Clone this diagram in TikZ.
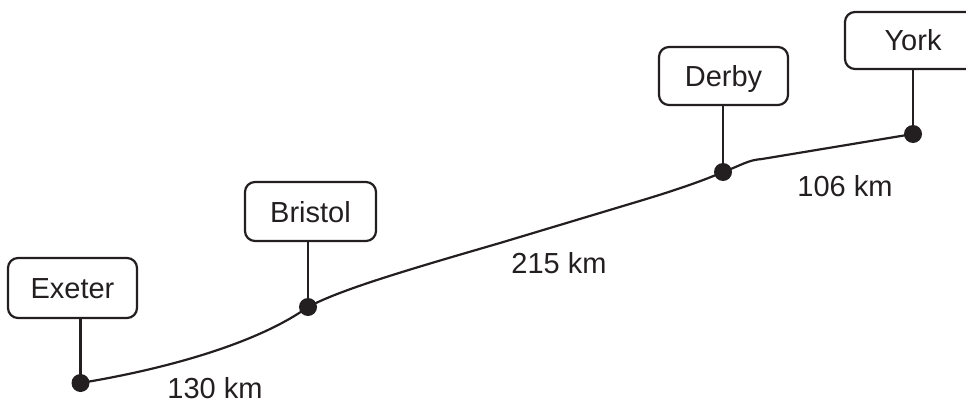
\documentclass[tikz,border=0pt]{standalone}
\usepackage{fontspec}
\setmainfont{Liberation Sans}
\definecolor{ink}{HTML}{231F20}
\begin{document}
\begin{tikzpicture}[x=1pt,y=-1pt,
  town/.style={draw=ink, line width=2.2pt, rounded corners=10pt, rectangle,
    minimum width=129pt, minimum height=58pt, inner sep=0pt,
    text height=21pt, text depth=0pt, text=ink,
    font=\fontsize{29}{35}\selectfont},
  stop/.style={circle, fill=ink, inner sep=0pt, minimum size=18pt},
  road/.style={draw=ink, line width=2.2pt},
  dist/.style={anchor=base, inner sep=0pt, text=ink, font=\fontsize{29}{35}\selectfont}]
\useasboundingbox (0,0) rectangle (966,404);
\clip (0,0) rectangle (966,404);
% stops
\node[stop] (e) at (80.5,383) {};
\node[stop] (b) at (308,307) {};
\node[stop] (d) at (723,172) {};
\node[stop] (y) at (913,134) {};
% boxes
\node[town, minimum width=129pt, minimum height=60pt] (E) at (72.5,288) {Exeter};
\node[town, minimum width=131pt, minimum height=59pt] (B) at (310.5,211.5) {Bristol};
\node[town, minimum width=129pt, minimum height=58pt] (D) at (723.5,76) {Derby};
\node[town, minimum width=136pt, minimum height=57pt] (Y) at (913,40.5) {York};
% leaders
\draw[road] (e.center) -- (e.center |- E.south);
\draw[road] (b.center) -- (b.center |- B.south);
\draw[road] (d.center) -- (d.center |- D.south);
\draw[road] (y.center) -- (y.center |- Y.south);
% route
\draw[road] (e.center) .. controls (160,370) and (255,345) .. (b.center);
\draw[road] (b.center) .. controls (340,290) and (400,272) .. (500,243)
  -- (633,203) .. controls (670,192) and (700,182) .. (d.center);
\draw[road] (d.center) .. controls (742,165) and (748,160) .. (762,159) -- (y.center);
% distances
\node[dist] (l1) at (215,398) {130 km};
\node[dist] (l2) at (559,273) {215 km};
\node[dist] (l3) at (845,196) {106 km};
\end{tikzpicture}
\end{document}
